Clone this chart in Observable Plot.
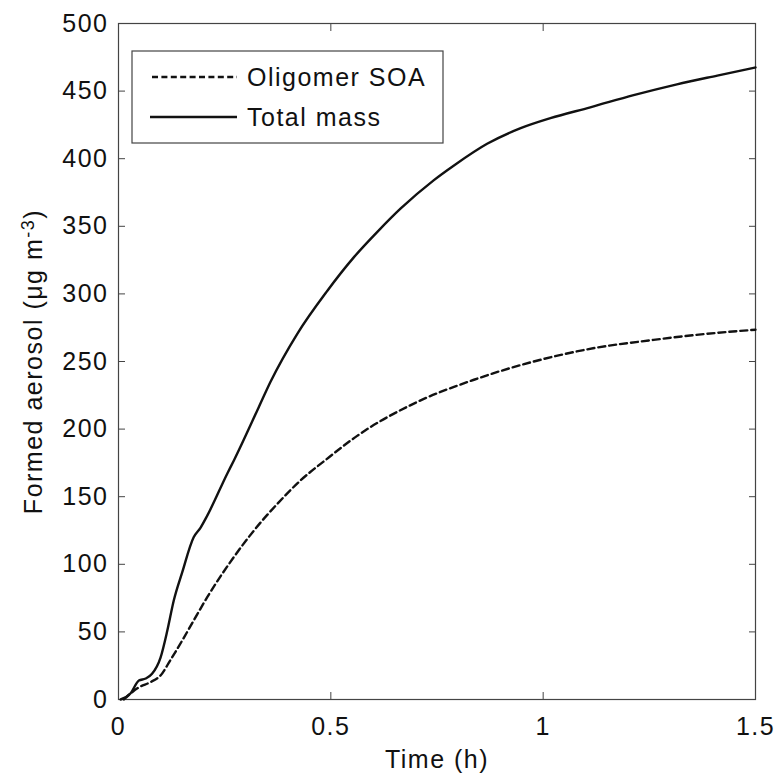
<!DOCTYPE html>
<html>
<head>
<meta charset="utf-8">
<script src="https://cdn.jsdelivr.net/npm/d3@7"></script>
<script src="https://cdn.jsdelivr.net/npm/@observablehq/plot@0.6"></script>
<style>
  html, body { margin: 0; padding: 0; background: #fff; }
  #chart { width: 779px; height: 781px; }
</style>
</head>
<body>
<div id="chart"></div>
<script>
// Data
const timeTotal = [0.005, 0.028, 0.048, 0.064, 0.079, 0.099, 0.115, 0.130, 0.150, 0.177, 0.193, 0.209, 0.256, 0.272, 0.330, 0.358, 0.421, 0.491, 0.554, 0.613, 0.664, 0.742, 0.790, 0.868, 0.947, 1.017, 1.111, 1.213, 1.315, 1.41, 1.5];
const totalMass = [0, 4.4, 14, 15.5, 19, 31, 51, 73, 94, 120, 127, 136, 167, 177, 216, 235, 270.5, 302, 327, 347, 363, 384, 395, 411, 422.6, 430, 438, 447, 455, 461.5, 467.5];

const timeOligomer = [0.0125, 0.032, 0.048, 0.075, 0.099, 0.122, 0.150, 0.177, 0.209, 0.272, 0.319, 0.374, 0.4285, 0.491, 0.562, 0.703, 0.837, 0.978, 1.104, 1.260, 1.386, 1.5];
const oligomerSOA = [0, 5.4, 9, 12.8, 17.8, 29, 43.6, 58.4, 75.7, 105.5, 125, 144.7, 162, 178, 195, 220, 236.5, 250, 259, 266, 270.5, 273.5];

const xTicks = [0, 0.5, 1, 1.5];
const yTicks = [0, 50, 100, 150, 200, 250, 300, 350, 400, 450, 500];
const seriesNames = ["Oligomer SOA", "Total mass"];

const totalRows = timeTotal.map((t, i) => ({t, v: totalMass[i]}));
const oligRows = timeOligomer.map((t, i) => ({t, v: oligomerSOA[i]}));

const FONT = "'Liberation Sans', Arial, Helvetica, sans-serif";
const INK = "#111";
const AXIS = "#444";
const YLABEL = "Formed aerosol (μg m-3)";

const fmt = d => String(d);

const svg = Plot.plot({
  width: 779,
  height: 781,
  marginLeft: 118,
  marginRight: 24,
  marginTop: 23,
  marginBottom: 82,
  style: {fontFamily: FONT, fontSize: "25px", color: INK, background: "#fff", letterSpacing: "1.5px"},
  x: {domain: [0, 1.5]},
  y: {domain: [0, 500]},
  marks: [
    Plot.frame({stroke: AXIS, strokeWidth: 1.2}),
    Plot.axisX(xTicks, {anchor: "bottom", tickSize: -7, tickPadding: 25, tickFormat: fmt, stroke: AXIS, fill: INK,
      label: "Time (h)", labelAnchor: "center", labelArrow: "none", labelOffset: 68}),
    Plot.axisX(xTicks, {anchor: "top", tickSize: -7, tickFormat: () => "", stroke: AXIS, label: null}),
    Plot.axisY(yTicks, {anchor: "left", tickSize: -7, tickPadding: 17, tickFormat: fmt, stroke: AXIS, fill: INK,
      label: YLABEL, labelAnchor: "center", labelArrow: "none", labelOffset: 94}),
    Plot.axisY(yTicks, {anchor: "right", tickSize: -7, tickFormat: () => "", stroke: AXIS, label: null}),
    Plot.line(oligRows, {x: "t", y: "v", stroke: INK, strokeWidth: 2.4, strokeDasharray: "7,4", curve: "monotone-x"}),
    Plot.line(totalRows, {x: "t", y: "v", stroke: INK, strokeWidth: 2.4, curve: "monotone-x"})
  ]
});

document.getElementById("chart").appendChild(svg);

// superscript on the y label
const s = d3.select(svg);
s.selectAll("text").each(function() {
  const t = d3.select(this);
  const txt = t.text().trim();
  if (txt.startsWith("Formed aerosol")) {
    t.text("Formed aerosol (μg m");
    t.append("tspan").attr("dy", "-0.45em").attr("font-size", "18px").text("-3");
    t.append("tspan").attr("dy", "0.3em").text(")");
  }
});

// legend box inside the plot
const lg = s.append("g").attr("class", "legend").attr("font-family", FONT).attr("font-size", "25px")
  .attr("letter-spacing", "1.5px").attr("fill", INK).attr("text-anchor", "start");
lg.append("rect").attr("x", 132).attr("y", 51).attr("width", 311).attr("height", 92)
  .attr("fill", "#fff").attr("stroke", AXIS).attr("stroke-width", 1.2);
const rowsY = [77, 117];
seriesNames.forEach((name, i) => {
  lg.append("line").attr("x1", i === 0 ? 152 : 150).attr("x2", 237).attr("y1", rowsY[i]).attr("y2", rowsY[i])
    .attr("stroke", INK).attr("stroke-width", 2.4).attr("stroke-dasharray", i === 0 ? "6,3.4" : null);
  lg.append("text").attr("x", 247).attr("y", rowsY[i]).attr("dy", "0.35em").attr("text-anchor", "start").text(name);
});
</script>
</body>
</html>
